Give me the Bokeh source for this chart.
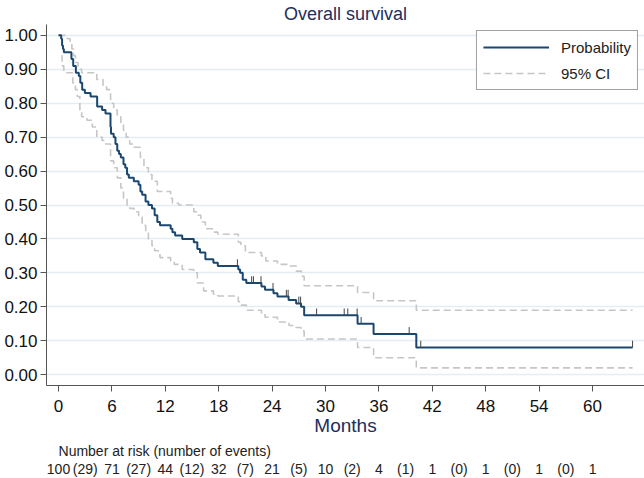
import numpy as np
from bokeh.plotting import figure
from bokeh.layouts import column
from bokeh.models import FixedTicker, NumeralTickFormatter, Range1d, Legend, LegendItem
from bokeh.core.properties import value
from bokeh.embed import file_html
from bokeh.resources import INLINE

# ---------------- data ----------------
title_text = "Overall survival"
x_label = "Months"
risk_title = "Number at risk (number of events)"
legend_labels = ["Probability", "95% CI"]

km_time = [0, 0.3, 0.4, 0.5, 0.6, 1.45, 1.65, 1.95, 2.28, 2.45, 2.66, 2.96, 3.6, 4.34, 4.9, 5.28,
           5.84, 5.9, 6.2, 6.4, 6.6, 6.8, 7.0, 7.3, 7.5, 7.7, 7.9, 8.46, 9.0, 9.2, 9.4, 9.78, 10.1,
           10.5, 10.8, 11.1, 11.4, 12.6, 12.8, 13.1, 13.9, 15.2, 15.6, 15.9, 16.5, 17.4, 17.9, 20.2,
           20.4, 20.7, 21.1, 22.8, 23.2, 24.15, 24.6, 25.85, 26.7, 27.25, 27.6, 33.6, 35.4, 40.2, 64.5]
km_surv = [1.00, 0.99, 0.97, 0.96, 0.95, 0.93, 0.91, 0.89, 0.88, 0.86, 0.84, 0.83, 0.82, 0.79, 0.78, 0.77,
           0.73, 0.71, 0.70, 0.68, 0.66, 0.65, 0.64, 0.62, 0.61, 0.59, 0.58, 0.57, 0.56, 0.54, 0.53, 0.51, 0.50,
           0.49, 0.47, 0.45, 0.44, 0.43, 0.42, 0.41, 0.40, 0.39, 0.37, 0.36, 0.34, 0.33, 0.32, 0.31,
           0.30, 0.28, 0.27, 0.26, 0.25, 0.24, 0.23, 0.22, 0.21, 0.20, 0.175, 0.15, 0.12, 0.08, 0.08]

up_time = [0, 1.0, 1.3, 1.5, 1.7, 1.9, 2.2, 2.6, 4.3, 5.0, 5.4, 5.85, 6.2, 6.6, 7.0, 7.3, 7.6, 8.0, 8.4,
           9.2, 9.6, 10.1, 10.5, 11.1, 12.6, 12.8, 13.5, 15.2, 15.6, 16.0, 16.5, 17.4, 17.9, 20.2, 20.5,
           21.0, 22.8, 23.3, 24.6, 25.9, 26.7, 27.3, 27.6, 33.6, 35.4, 40.2, 64.5]
up_val = [1.00, 0.99, 0.98, 0.96, 0.94, 0.92, 0.90, 0.89, 0.87, 0.85, 0.84, 0.80, 0.78, 0.76, 0.74, 0.72, 0.70,
          0.68, 0.67, 0.64, 0.61, 0.59, 0.57, 0.54, 0.52, 0.505, 0.50, 0.48, 0.47, 0.45, 0.43, 0.42, 0.414,
          0.39, 0.38, 0.36, 0.35, 0.335, 0.325, 0.32, 0.305, 0.29, 0.262, 0.242, 0.218, 0.19, 0.19]

lo_time = [0.3, 0.4, 0.6, 1.6, 1.9, 2.1, 2.4, 2.6, 3.2, 3.8, 4.3, 4.9, 5.3, 5.85, 6.2, 6.6, 7.0, 7.3, 7.7,
           8.0, 8.5, 9.0, 9.4, 9.8, 10.1, 10.5, 10.8, 11.4, 12.6, 13.0, 13.9, 15.2, 15.6, 16.3, 17.4, 17.9,
           20.2, 20.5, 21.1, 22.8, 23.2, 24.6, 25.9, 26.7, 27.25, 27.6, 33.6, 35.4, 40.2, 64.5]
lo_val = [0.94, 0.91, 0.89, 0.86, 0.84, 0.82, 0.78, 0.76, 0.75, 0.73, 0.70, 0.69, 0.68, 0.63, 0.61, 0.58, 0.55,
          0.52, 0.50, 0.49, 0.48, 0.465, 0.44, 0.42, 0.40, 0.38, 0.365, 0.345, 0.335, 0.325, 0.31, 0.30, 0.27,
          0.247, 0.237, 0.232, 0.215, 0.205, 0.19, 0.18, 0.169, 0.155, 0.145, 0.139, 0.129, 0.105, 0.08,
          0.05, 0.02, 0.02]

censor_time = [20.1, 21.7, 21.9, 22.75, 24.1, 25.6, 25.8, 27.0, 27.2, 29.0, 32.1, 32.5, 33.55, 34.0,
               39.4, 40.7, 64.5]

y_ticks = [0.0, 0.1, 0.2, 0.3, 0.4, 0.5, 0.6, 0.7, 0.8, 0.9, 1.0]
risk_months = [0, 6, 12, 18, 24, 30, 36, 42, 48, 54, 60]
at_risk = [100, 71, 44, 32, 21, 10, 4, 1, 1, 1, 1]
events = [29, 27, 12, 7, 5, 2, 1, 0, 0, 0]

# ---------------- style ----------------
FONT = "Liberation Sans"
NAVY = "#1a476f"
TITLE_COL = "#1c2e5c"
CI_COL = "#c6c6c6"
W = 644
LEFT = 46
H_MAIN = 441
H_RISK = 37
XR = Range1d(-1.35, 65.84)

p = figure(width=W, height=H_MAIN, x_range=XR, y_range=Range1d(-0.032, 1.032),
           output_backend="svg", toolbar_location=None,
           min_border_left=LEFT, min_border_right=0, min_border_top=23, min_border_bottom=56)
p.outline_line_color = None
p.background_fill_color = "white"

p.title.text = title_text
p.title.align = "center"
p.title.text_font = FONT
p.title.text_font_size = "18px"
p.title.text_font_style = "normal"
p.title.text_color = TITLE_COL
p.title.standoff = 2

r_up = p.step(up_time, up_val, mode="after", line_color=CI_COL, line_width=1.6, line_dash="7 4")
r_lo = p.step(lo_time, lo_val, mode="after", line_color=CI_COL, line_width=1.6, line_dash="7 4")
r_km = p.step(km_time, km_surv, mode="after", line_color=NAVY, line_width=2)

kt = np.array(km_time)
ks = np.array(km_surv)
idx = np.searchsorted(kt, np.array(censor_time), side="right") - 1
cs = ks[idx]
p.segment(x0=censor_time, y0=cs, x1=censor_time, y1=cs + 0.02, line_color="#444444", line_width=1)

p.xgrid.visible = False
p.ygrid.grid_line_color = "#e4edf2"
p.ygrid.grid_line_width = 1.5

for ax in (p.xaxis[0], p.yaxis[0]):
    ax.axis_line_color = "#555555"
    ax.major_tick_line_color = "#555555"
    ax.major_tick_out = 6
    ax.major_tick_in = 0
    ax.minor_tick_line_color = None
    ax.major_label_text_font = FONT
    ax.major_label_text_font_size = "17px"
    ax.major_label_text_color = "#111111"

p.yaxis.major_label_standoff = 3
p.xaxis.major_label_standoff = 8

p.yaxis.ticker = FixedTicker(ticks=y_ticks)
p.yaxis.formatter = NumeralTickFormatter(format="0.00")
p.xaxis.ticker = FixedTicker(ticks=risk_months)
p.xaxis.axis_label = x_label
p.xaxis.axis_label_text_font = FONT
p.xaxis.axis_label_text_font_size = "19px"
p.xaxis.axis_label_text_font_style = "normal"
p.xaxis.axis_label_text_color = TITLE_COL
p.xaxis.axis_label_standoff = 0

legend = Legend(items=[LegendItem(label=legend_labels[0], renderers=[r_km]),
                       LegendItem(label=legend_labels[1], renderers=[r_up])],
                location="top_right")
legend.border_line_color = "#444444"
legend.border_line_width = 1
legend.label_text_font = FONT
legend.label_text_font_size = "15px"
legend.label_text_color = "#222222"
legend.glyph_width = 66
legend.glyph_height = 20
legend.label_height = 20
legend.spacing = 6
legend.padding = 6
legend.margin = 6
legend.label_standoff = 12
p.add_layout(legend)

# ---------------- risk table ----------------
p2 = figure(width=W, height=H_RISK, x_range=XR, y_range=Range1d(0, 1),
            output_backend="svg", toolbar_location=None,
            x_axis_location=None, y_axis_location=None,
            min_border_left=LEFT, min_border_right=0, min_border_top=0, min_border_bottom=0)
p2.outline_line_color = None
p2.grid.visible = False

ROW1 = 0.75
ROW2 = 0.25
p2.text(x=[risk_months[0]], y=[ROW1], text=[risk_title], text_align="left", text_baseline="middle",
        text_font=value(FONT), text_font_size="14px", text_color="#222222")
p2.text(x=risk_months, y=[ROW2] * len(risk_months), text=[str(v) for v in at_risk],
        text_align="center", text_baseline="middle",
        text_font=value(FONT), text_font_size="14px", text_color="#222222")
mid = [(risk_months[i] + risk_months[i + 1]) / 2 for i in range(len(events))]
p2.text(x=mid, y=[ROW2] * len(mid), text=["(%d)" % e for e in events],
        text_align="center", text_baseline="middle",
        text_font=value(FONT), text_font_size="14px", text_color="#222222")

layout = column(p, p2, spacing=0)
open("out.html", "w").write(file_html(layout, INLINE))
